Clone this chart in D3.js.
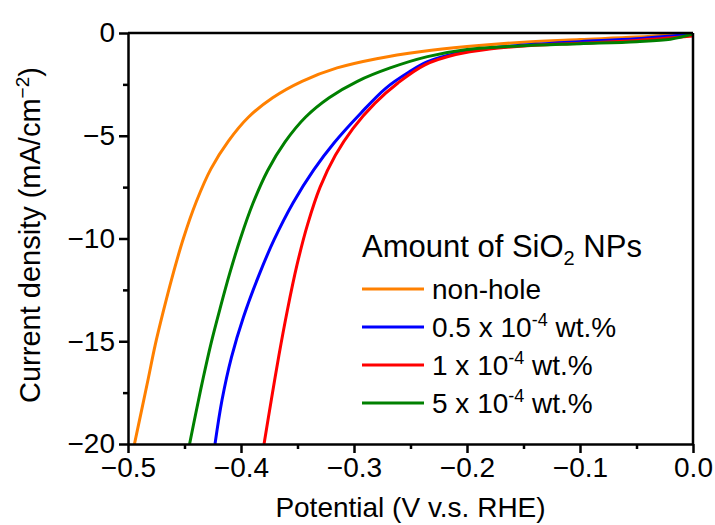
<!DOCTYPE html>
<html>
<head>
<meta charset="utf-8">
<script src="https://cdn.jsdelivr.net/npm/d3@7"></script>
<style>
  body { margin: 0; background: #fff; }
  text { font-family: "Liberation Sans", Arial, sans-serif; fill: #000; }
</style>
</head>
<body>
<svg width="715" height="525"></svg>
<script>
// potential (V) and current density (mA/cm-2)
const nonHoleV = [-0.4943, -0.4885, -0.4820, -0.4760, -0.4690, -0.4610, -0.4510, -0.4395, -0.4265, -0.4110, -0.3935, -0.3720, -0.3460, -0.3150, -0.2800, -0.2400, -0.2000, -0.1500, -0.1000, -0.0500, 0.0];
const nonHoleJ = [-20, -18.5, -16.8, -15.2, -13.6, -11.9, -10.0, -8.2, -6.6, -5.25, -4.1, -3.15, -2.35, -1.7, -1.25, -0.9, -0.66, -0.45, -0.32, -0.2, -0.02];

const p05V = [-0.4230, -0.4168, -0.4084, -0.3978, -0.3841, -0.3708, -0.3540, -0.3358, -0.3177, -0.2938, -0.2717, -0.2513, -0.2354, -0.2100, -0.1800, -0.1400, -0.1000, -0.0500, 0.0];
const p05J = [-20, -17.86, -15.77, -13.82, -11.78, -10.07, -8.27, -6.67, -5.35, -3.89, -2.68, -1.90, -1.41, -1.0, -0.75, -0.55, -0.42, -0.28, -0.05];

const p1V = [-0.3796, -0.3730, -0.3665, -0.3590, -0.3505, -0.3410, -0.3300, -0.3165, -0.3010, -0.2814, -0.2611, -0.2372, -0.2100, -0.1800, -0.1400, -0.1000, -0.0500, 0.0];
const p1J = [-20, -17.8, -15.7, -13.5, -11.3, -9.3, -7.5, -5.95, -4.65, -3.41, -2.43, -1.55, -1.05, -0.78, -0.6, -0.5, -0.36, -0.15];

const p5V = [-0.4455, -0.4400, -0.4335, -0.4265, -0.4185, -0.4100, -0.4005, -0.3895, -0.3765, -0.3610, -0.3430, -0.3220, -0.2970, -0.2680, -0.2350, -0.2000, -0.1500, -0.1000, -0.0500, -0.0200, 0.0];
const p5J = [-20, -18.5, -16.8, -15.1, -13.4, -11.7, -10.0, -8.3, -6.7, -5.3, -4.1, -3.15, -2.35, -1.70, -1.15, -0.80, -0.62, -0.52, -0.42, -0.3, -0.05];

const seriesNames = ['non-hole', '0.5', '1', '5'];
const seriesColors = ['#FF8000', '#0000FF', '#FF0000', '#008000'];
const xTicks = [-0.5, -0.4, -0.3, -0.2, -0.1, 0.0];
const yTicks = [0, -5, -10, -15, -20];

const series = [
  {name: seriesNames[0], v: nonHoleV, j: nonHoleJ},
  {name: seriesNames[1], v: p05V, j: p05J},
  {name: seriesNames[2], v: p1V, j: p1J},
  {name: seriesNames[3], v: p5V, j: p5J}
];

const width = 715, height = 525;
const margin = {top: 33, right: 22, bottom: 81, left: 128};
const innerW = width - margin.left - margin.right;
const innerH = height - margin.top - margin.bottom;

const svg = d3.select('svg');
const g = svg.append('g').attr('transform', `translate(${margin.left},${margin.top})`);

const x = d3.scaleLinear().domain([-0.5, 0]).range([0, innerW]);
const y = d3.scaleLinear().domain([-20, 0]).range([innerH, 0]);

g.append('clipPath').attr('id', 'clip')
  .append('rect').attr('width', innerW).attr('height', innerH);

const line = d3.line()
  .x(d => x(d[0]))
  .y(d => y(d[1]))
  .curve(d3.curveCatmullRom.alpha(0.5));

g.append('g').attr('clip-path', 'url(#clip)')
  .selectAll('path')
  .data(series)
  .enter().append('path')
  .attr('d', s => line(s.v.map((v, i) => [v, s.j[i]])))
  .attr('fill', 'none')
  .attr('stroke', (s, i) => seriesColors[i])
  .attr('stroke-width', 3);

// minor ticks
const xMinor = d3.range(-0.45, 0, 0.1);
const yMinor = d3.range(-17.5, 0, 5);
g.append('g')
  .attr('transform', `translate(0,${innerH})`)
  .call(d3.axisBottom(x).tickValues(xMinor).tickSize(5).tickFormat(''))
  .call(a => a.select('.domain').remove())
  .selectAll('line').attr('stroke-width', 2.5);
g.append('g')
  .call(d3.axisLeft(y).tickValues(yMinor).tickSize(5).tickFormat(''))
  .call(a => a.select('.domain').remove())
  .selectAll('line').attr('stroke-width', 2.5);

// major axes
const xAxis = g.append('g')
  .attr('transform', `translate(0,${innerH})`)
  .call(d3.axisBottom(x).tickValues(xTicks).tickSize(9).tickPadding(4).tickSizeOuter(0).tickFormat(d3.format('.1f')));
const yAxis = g.append('g')
  .call(d3.axisLeft(y).tickValues(yTicks).tickSize(9).tickPadding(4).tickSizeOuter(0).tickFormat(d3.format('d')));

[xAxis, yAxis].forEach(a => {
  a.selectAll('line').attr('stroke-width', 2.5);
  a.select('.domain').attr('stroke-width', 2.5);
  a.selectAll('text').style('font-size', '28px').style('font-family', '"Liberation Sans", Arial, sans-serif');
});

// frame top and right
g.append('line').attr('x1', 0).attr('x2', innerW).attr('y1', 0).attr('y2', 0)
  .attr('stroke', '#000').attr('stroke-width', 2.5);
g.append('line').attr('x1', innerW).attr('x2', innerW).attr('y1', 0).attr('y2', innerH)
  .attr('stroke', '#000').attr('stroke-width', 2.5);

// axis titles
svg.append('text')
  .attr('x', margin.left + innerW / 2)
  .attr('y', 517)
  .attr('text-anchor', 'middle')
  .style('font-size', '28px')
  .text('Potential (V v.s. RHE)');

const yl = svg.append('text')
  .attr('transform', 'translate(40,403) rotate(-90)')
  .attr('text-anchor', 'start')
  .style('font-size', '29px');
yl.append('tspan').text('Current density (mA/cm');
yl.append('tspan').attr('dy', -11).style('font-size', '19px').text('\u22122');
yl.append('tspan').attr('dy', 11).text(')');

// legend
const legend = svg.append('g');
const lt = legend.append('text')
  .attr('x', 362).attr('y', 257)
  .style('font-size', '31px');
lt.append('tspan').text('Amount of SiO');
lt.append('tspan').attr('dy', 8).style('font-size', '20px').text('2');
lt.append('tspan').attr('dy', -8).text(' NPs');

const rowY = d3.scaleLinear().domain([0, 3]).range([289, 403]);
series.forEach((s, i) => {
  const yy = rowY(i);
  legend.append('line')
    .attr('x1', 362).attr('x2', 424).attr('y1', yy).attr('y2', yy)
    .attr('stroke', seriesColors[i]).attr('stroke-width', 3);
  const t = legend.append('text')
    .attr('x', 432).attr('y', yy + 10)
    .style('font-size', '28px');
  if (i === 0) {
    t.text(s.name);
  } else {
    t.append('tspan').text(s.name + ' x 10');
    t.append('tspan').attr('dy', -11).style('font-size', '18px').text('-4');
    t.append('tspan').attr('dy', 11).text(' wt.%');
  }
});
</script>
</body>
</html>
